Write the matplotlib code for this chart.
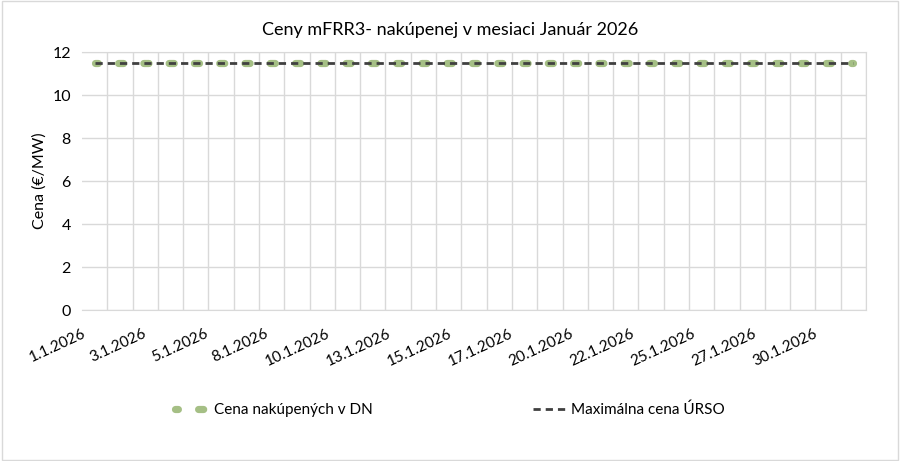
import matplotlib.pyplot as plt
import numpy as np

plt.rcParams['font.family'] = ['Lato', 'DejaVu Sans']

days = [f'{d}.1.2026' for d in range(1, 32)]
price_dn = [11.5] * 31
max_urso = [11.5] * 31
shown_labels = ['1.1.2026', '3.1.2026', '5.1.2026', '8.1.2026', '10.1.2026', '13.1.2026',
                '15.1.2026', '17.1.2026', '20.1.2026', '22.1.2026', '25.1.2026',
                '27.1.2026', '30.1.2026']

fig = plt.figure(figsize=(9, 4.61), dpi=100)
ax = fig.add_axes([82 / 900, 1 - 310 / 461, (866 - 82) / 900, (310 - 52) / 461])

x = np.arange(len(days))
ax.plot(x, price_dn, color='#A5BF85', linewidth=5.2, linestyle=(0.3, (0.7, 2.8)),
        dash_capstyle='round', label='Cena nakúpených v DN', zorder=3)
ax.plot(x, max_urso, color='#404040', linewidth=2, linestyle=(0, (2.6, 1.8)),
        label='Maximálna cena ÚRSO', zorder=4)

ax.set_ylim(0, 12)
ax.set_yticks(range(0, 13, 2))
ax.set_xlim(-0.5, len(days) - 0.5)

# Excel spreads the skipped date labels evenly along the axis
step = 2.41
ax.set_xticks(-0.5 + step * np.arange(len(shown_labels)))
ax.set_xticklabels(shown_labels, rotation=25, ha='right', va='top', rotation_mode='anchor', fontsize=11)
ax.set_xticks(np.arange(-0.5, len(days)), minor=True)
ax.tick_params(axis='x', which='both', length=0, pad=12)
ax.tick_params(axis='y', length=0, labelsize=11.5, pad=8)

ax.grid(True, axis='y', color='#D9D9D9', linewidth=1)
ax.grid(True, axis='x', which='minor', color='#D9D9D9', linewidth=1)
ax.set_axisbelow(True)
for s in ax.spines.values():
    s.set_color('#D9D9D9')
ax.spines['left'].set_visible(False)

ax.set_ylabel('Cena (€/MW)', fontsize=11.5, labelpad=4)
fig.text(0.5, 1 - 30 / 461, 'Ceny mFRR3- nakúpenej v mesiaci Január 2026', ha='center', va='center', fontsize=13)

fig.legend(loc='center', bbox_to_anchor=(0.5, 1 - 410 / 461), ncol=2, frameon=False,
           fontsize=11, columnspacing=10.5, handlelength=2.2, handletextpad=0.3)

fig.patches.append(plt.Rectangle((0.002, 0.003), 0.996, 0.994, transform=fig.transFigure,
                                 fill=False, edgecolor='#D9D9D9', linewidth=1))

fig.savefig('out.png', dpi=100)
